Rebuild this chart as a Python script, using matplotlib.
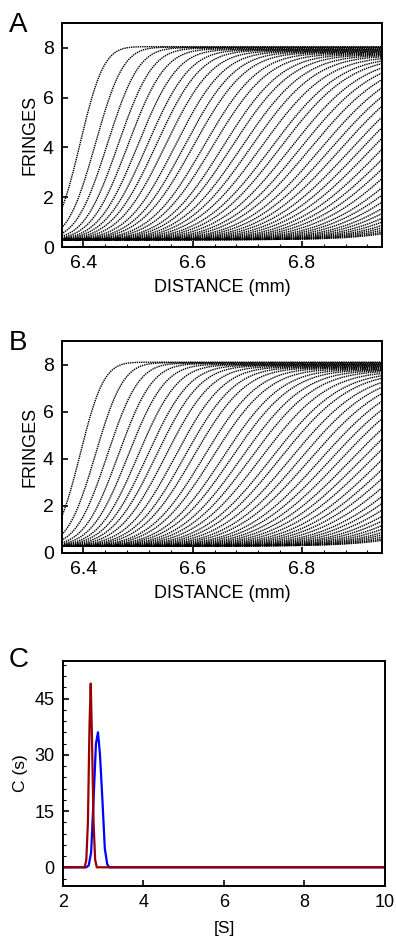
import math
import numpy as np
import matplotlib
matplotlib.use("Agg")
import matplotlib.pyplot as plt
import matplotlib.ticker as ticker

plt.rcParams['font.family'] = ['Liberation Sans', 'DejaVu Sans']

# boundary midpoints (mm), boundary spread (mm) and plateau (fringes) for each scan
midpoints = [6.394, 6.422, 6.444, 6.464, 6.482, 6.500, 6.517, 6.533, 6.550, 6.568,
             6.585, 6.601, 6.620, 6.636, 6.655, 6.671, 6.689, 6.706, 6.724, 6.743,
             6.759, 6.778, 6.796, 6.814, 6.833, 6.851, 6.869, 6.888, 6.906, 6.924,
             6.943, 6.961, 6.979, 6.998, 7.018, 7.036, 7.055, 7.075, 7.093, 7.113,
             7.132, 7.152, 7.170, 7.190, 7.211, 7.231]
spreads = [0.034, 0.040, 0.045, 0.049, 0.053, 0.057, 0.061, 0.064, 0.067, 0.070,
           0.073, 0.076, 0.079, 0.082, 0.085, 0.088, 0.091, 0.094, 0.097, 0.100,
           0.102, 0.105, 0.107, 0.110, 0.112, 0.115, 0.117, 0.120, 0.122, 0.124,
           0.126, 0.128, 0.130, 0.132, 0.134, 0.136, 0.138, 0.140, 0.142, 0.144,
           0.146, 0.148, 0.150, 0.152, 0.154, 0.156]
plateaus = [8.05, 8.03, 8.01, 7.99, 7.96, 7.94, 7.92, 7.90, 7.87, 7.85,
            7.83, 7.81, 7.79, 7.76, 7.74, 7.72, 7.70, 7.68, 7.65, 7.63,
            7.61, 7.59, 7.57, 7.55, 7.52, 7.50, 7.48, 7.46, 7.44, 7.42,
            7.40, 7.37, 7.35, 7.33, 7.31, 7.29, 7.27, 7.25, 7.22, 7.20,
            7.18, 7.16, 7.14, 7.12, 7.10, 7.08]
baseline = 0.3

# c(s) distributions
s_red = [2.0, 2.54, 2.58, 2.62, 2.66, 2.69, 2.72, 2.76, 2.80, 2.84, 10.0]
c_red = [0, 0, 2, 12, 38, 49, 35, 12, 2, 0, 0]
s_blue = [2.0, 2.58, 2.64, 2.70, 2.76, 2.82, 2.87, 2.92, 2.98, 3.04, 3.10, 3.15, 10.0]
c_blue = [0, 0, 0.5, 4, 18, 33, 36, 30, 18, 5, 0.8, 0, 0]

fig = plt.figure(figsize=(3.96, 9.43), dpi=100)
axA = fig.add_axes([0.157, 0.738, 0.808, 0.2376])
axB = fig.add_axes([0.157, 0.4136, 0.808, 0.2248])
axC = fig.add_axes([0.159, 0.0604, 0.813, 0.2386])

r = np.linspace(6.34, 6.97, 400)
erf = np.vectorize(math.erf)


def boundaries(ax, shift):
    for m, w, p in zip(midpoints, spreads, plateaus):
        y = baseline + (p + shift - baseline) * 0.5 * (1 + erf((r - m) / (w * np.sqrt(2))))
        ax.plot(r, y, color='black', lw=1.0, ls=(0, (1, 0.6)))
    ax.set_xlim(6.361, 6.947)
    ax.set_ylim(0, 9)
    ax.xaxis.set_major_locator(ticker.FixedLocator([6.4, 6.6, 6.8]))
    ax.xaxis.set_minor_locator(ticker.MultipleLocator(0.04))
    ax.set_yticks([0, 2, 4, 6, 8])
    ax.set_xlabel("DISTANCE (mm)", fontsize=13, labelpad=5)
    ax.set_ylabel("FRINGES", fontsize=13, labelpad=3)
    ax.tick_params(which='major', labelsize=14)


boundaries(axA, 0.0)
boundaries(axB, 0.05)

axC.plot(s_blue, c_blue, color='#0000ff', lw=1.6)
axC.plot(s_red, c_red, color='#990000', lw=1.6)
axC.set_xlim(2, 10)
axC.set_ylim(-5, 55)
axC.set_xticks([2, 4, 6, 8, 10])
axC.set_yticks([0, 15, 30, 45])
axC.yaxis.set_minor_locator(ticker.MultipleLocator(3))
axC.set_xlabel("[S]", fontsize=12.5, labelpad=7)
axC.set_ylabel("C (s)", fontsize=12.5, labelpad=5)
axC.tick_params(which='major', labelsize=13)

for ax in (axA, axB, axC):
    for sp in ax.spines.values():
        sp.set_linewidth(1.4)
    ax.tick_params(which='major', direction='in', length=4, width=1.2, pad=6)
    ax.tick_params(which='minor', direction='in', length=2.5, width=0.8)

fig.text(0.022, 0.973, "A", fontsize=20, va='center')
fig.text(0.022, 0.636, "B", fontsize=20, va='center')
fig.text(0.022, 0.300, "C", fontsize=20, va='center')

plt.savefig("out.png", dpi=100)
